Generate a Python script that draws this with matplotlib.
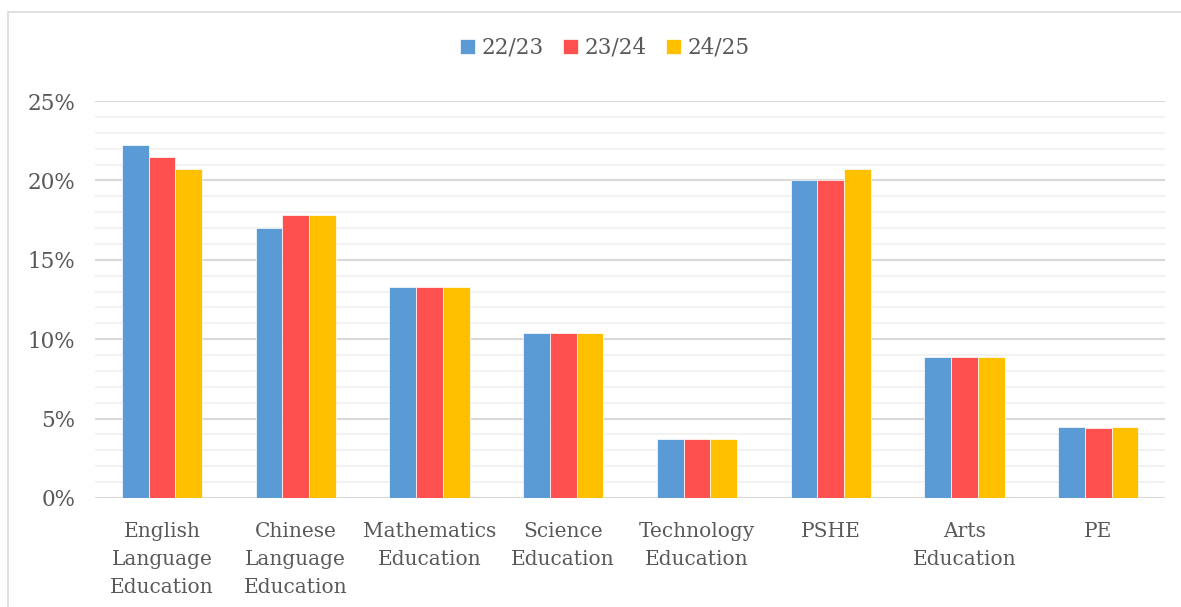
import numpy as np
import matplotlib.pyplot as plt
from matplotlib.patches import Rectangle
from matplotlib.ticker import MultipleLocator, FuncFormatter

# Dados (%)
categorias = ['English\nLanguage\nEducation', 'Chinese\nLanguage\nEducation',
              'Mathematics\nEducation', 'Science\nEducation', 'Technology\nEducation',
              'PSHE', 'Arts\nEducation', 'PE']
anos = ['22/23', '23/24', '24/25']
v2223 = [22.2, 17.0, 13.3, 10.4, 3.7, 20.0, 8.9, 4.5]
v2324 = [21.5, 17.8, 13.3, 10.4, 3.7, 20.0, 8.9, 4.4]
v2425 = [20.7, 17.8, 13.3, 10.4, 3.7, 20.7, 8.9, 4.5]
cores = ['#5B9BD5', '#FF5050', '#FFC000']

plt.rcParams['font.family'] = ['DejaVu Serif']
cinza = '#595959'

fig = plt.figure(figsize=(11.81, 6.07), dpi=100)
ax = fig.add_axes([95/1181, 1 - 498/607, 1070/1181, 397/607])

# Moldura do gráfico
fig.patches.append(Rectangle((8/1181, -0.1), 1.2, 1 - 12/607 + 0.1,
                             transform=fig.transFigure, fill=False,
                             edgecolor='#D9D9D9', linewidth=1.2))

x = np.arange(len(categorias))
w = 0.2
for i, (serie, cor) in enumerate(zip([v2223, v2324, v2425], cores)):
    ax.bar(x + (i - 1) * w, serie, w, color=cor, edgecolor='white',
           linewidth=0.5, label=anos[i], zorder=3)

ax.set_xlim(-0.5, len(categorias) - 0.5)
ax.set_ylim(0, 25)
ax.yaxis.set_major_locator(MultipleLocator(5))
ax.yaxis.set_minor_locator(MultipleLocator(1))
ax.yaxis.set_major_formatter(FuncFormatter(lambda v, p: f'{v:.0f}%'))
ax.grid(which='major', axis='y', color='#D9D9D9', linewidth=1.5, zorder=0)
ax.grid(which='minor', axis='y', color='#F2F2F2', linewidth=1.5, zorder=0)
for s in ax.spines.values():
    s.set_visible(False)
ax.set_xticks(x)
ax.set_xticklabels(categorias, fontsize=14.5, color=cinza, linespacing=1.62)
ax.tick_params(axis='x', length=0, pad=17)
ax.tick_params(axis='y', which='both', length=0, pad=14, labelsize=15.5, labelcolor=cinza)

leg = fig.legend(loc='center', bbox_to_anchor=(605/1181, 1 - 48/607), ncol=3,
                 frameon=False, fontsize=15.5, handlelength=0.7, handleheight=0.7,
                 handletextpad=0.3, columnspacing=0.9)
for t in leg.get_texts():
    t.set_color(cinza)

fig.savefig('out.png', dpi=100)
